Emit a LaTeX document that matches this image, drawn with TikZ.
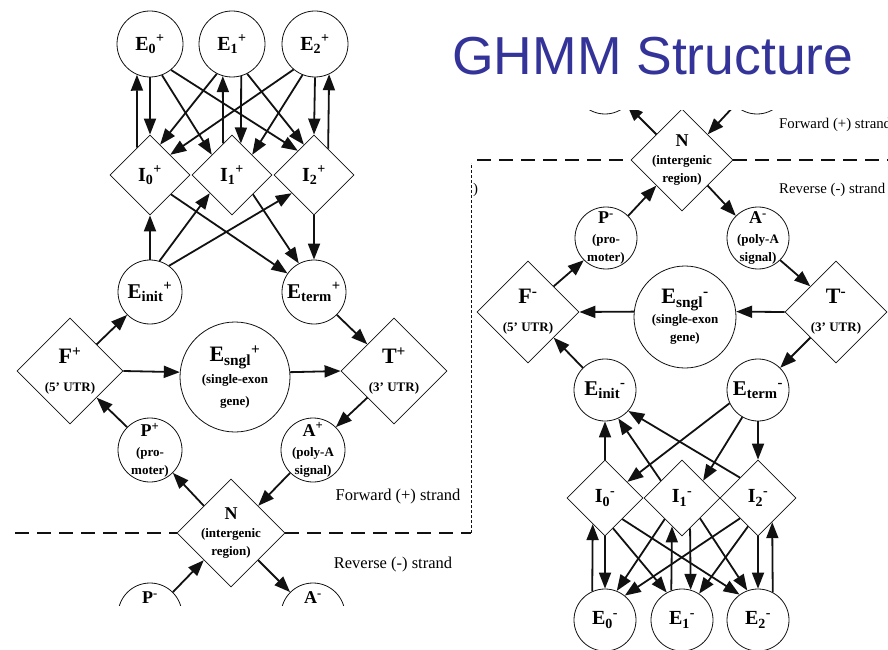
\documentclass[tikz,border=0pt]{standalone}
\usepackage{fontspec}
\setmainfont{Liberation Serif}
\newfontfamily\titlefont{Liberation Sans}
\usepackage{xcolor}
\usepackage{tikz}
\usetikzlibrary{calc,shapes.geometric,arrows.meta}
\definecolor{ink}{HTML}{111111}
\definecolor{titleblue}{HTML}{333399}
\newcommand{\statelab}[2][20]{{\fontsize{#1}{#1}\selectfont #2}}
\tikzset{
  state/.style={circle, draw=ink, line width=0.8pt, inner sep=-10pt, minimum size=#1,
    font=\bfseries\fontsize{13}{18}\selectfont, align=center},
  gate/.style={diamond, aspect=1, draw=ink, line width=0.8pt, inner sep=-10pt, minimum size=#1,
    font=\bfseries\fontsize{13}{18}\selectfont, align=center},
  arr/.style={draw=ink, line width=1.8pt, -{Triangle[length=16pt,width=12pt]}},
  splitline/.style={draw=ink, line width=1.2pt, dash pattern=on 14pt off 8pt},
  frameline/.style={draw=ink, line width=0.6pt, dash pattern=on 3pt off 2pt},
  strand/.style={font=\fontsize{16.5}{18}\selectfont, inner sep=0pt},
}

\begin{document}
\begin{tikzpicture}[x=1pt,y=1pt]
  \useasboundingbox (0,0) rectangle (888,649);
  \node[anchor=base west, inner sep=0pt, text=titleblue,
    font=\titlefont\fontsize{53.5}{54}\selectfont] (title) at (452,574) {GHMM Structure};

  % left panel: forward strand
  \begin{scope}
    \clip (0,44) rectangle (471,649);
    \node[state=66pt] (E0p) at (150,605) {\statelab{E\textsubscript{0}\textsuperscript{+}}};
    \node[state=66pt] (E1p) at (232,605) {\statelab{E\textsubscript{1}\textsuperscript{+}}};
    \node[state=66pt] (E2p) at (315,605) {\statelab{E\textsubscript{2}\textsuperscript{+}}};
    \node[gate=80pt] (I0p) at (150,474) {\statelab{I\textsubscript{0}\textsuperscript{+}}};
    \node[gate=80pt] (I1p) at (232,474) {\statelab{I\textsubscript{1}\textsuperscript{+}}};
    \node[gate=80pt] (I2p) at (314,474) {\statelab{I\textsubscript{2}\textsuperscript{+}}};
    \node[state=64pt] (Einitp) at (150,357) {\statelab[21]{E\textsubscript{init}\textsuperscript{+}}};
    \node[state=64pt] (Etermp) at (314,357) {\statelab[21]{E\textsubscript{term}\textsuperscript{+}}};
    \node[gate=106pt] (Fp) at (70,278) {\statelab[22]{F\textsuperscript{+}}\\[10pt](5' UTR)};
    \node[state=110pt] (Esnglp) at (235,272) {\statelab[22]{E\textsubscript{sngl}\textsuperscript{+}}\\[4pt](single-exon\\[4pt]gene)};
    \node[gate=106pt] (Tp) at (394,278) {\statelab[22]{T\textsuperscript{+}}\\[10pt](3' UTR)};
    \node[state=64pt] (Pp) at (150,199) {\statelab[18]{P\textsuperscript{+}}\\[2pt](pro-\\moter)};
    \node[state=64pt] (Ap) at (313,199) {\statelab[18]{A\textsuperscript{+}}\\[2pt](poly-A\\signal)};
    \node[gate=108pt] (N) at (231,116) {\statelab[18]{N}\\(intergenic\\region)};
    \node[state=64pt] (Pcut) at (150,34) {};
    \node[state=64pt] (Acut) at (313,34) {};
    \node[inner sep=0pt] (Pcutlab) at ([yshift=17pt]Pcut.center) {\bfseries\statelab[18]{P\textsuperscript{-}}};
    \node[inner sep=0pt] (Acutlab) at ([yshift=17pt]Acut.center) {\bfseries\statelab[18]{A\textsuperscript{-}}};

    % exons <-> introns
    \draw[arr] ($(I0p.north)!.32!(I0p.west)$) -- (E0p.247);
    \draw[arr] (E0p.south) -- (I0p.north);
    \draw[arr] (E0p.291) -- ($(I1p.north)!.5!(I1p.west)$);
    \draw[arr] (E0p.309) -- ($(I2p.north)!.4!(I2p.west)$);
    \draw[arr] (E1p.243) -- ($(I0p.north)!.25!(I0p.east)$);
    \draw[arr] ($(I1p.north)!.22!(I1p.west)$) -- (E1p.254);
    \draw[arr] (E1p.286) -- ($(I1p.north)!.22!(I1p.east)$);
    \draw[arr] (E1p.297) -- ($(I2p.north)!.25!(I2p.west)$);
    \draw[arr] (E2p.230) -- ($(I0p.north)!.5!(I0p.east)$);
    \draw[arr] (E2p.248) -- ($(I1p.north)!.5!(I1p.east)$);
    \draw[arr] (E2p.south) -- (I2p.north);
    \draw[arr] ($(I2p.north)!.35!(I2p.east)$) -- (E2p.295);

    \draw[arr] (Einitp.north) -- (I0p.south);
    \draw[arr] (Einitp.73) -- ($(I1p.south)!.55!(I1p.west)$);
    \draw[arr] (Einitp.54) -- ($(I2p.south)!.55!(I2p.west)$);
    \draw[arr] ($(I0p.south)!.52!(I0p.east)$) -- (Etermp.145);
    \draw[arr] ($(I1p.south)!.52!(I1p.east)$) -- (Etermp.118);
    \draw[arr] (I2p.south) -- (Etermp.north);

    % gene level
    \draw[arr] ($(Fp.north)!.5!(Fp.east)$) -- (Einitp.225);
    \draw[arr] (Fp.east) -- (Esnglp.175);
    \draw[arr] (Esnglp.5) -- (Tp.west);
    \draw[arr] (Etermp.315) -- ($(Tp.north)!.5!(Tp.west)$);
    \draw[arr] ($(Tp.south)!.5!(Tp.west)$) -- (Ap.45);
    \draw[arr] (Pp.135) -- ($(Fp.south)!.5!(Fp.east)$);
    \draw[arr] (Ap.225) -- ($(N.north)!.5!(N.east)$);
    \draw[arr] ($(N.north)!.5!(N.west)$) -- (Pp.315);
    \draw[arr] (Pcut.45) -- ($(N.south)!.5!(N.west)$);
    \draw[arr] ($(N.south)!.5!(N.east)$) -- (Acut.135);

    \coordinate (cutL) at (15,116);
    \coordinate (cutR) at (471,116);
    \draw[splitline] (cutL) -- (N.west);
    \draw[splitline] (N.east) -- (cutR);
    \node[strand] (fwdl) at (398,152) {Forward (+) strand};
    \node[strand] (revl) at (393,84) {Reverse (-) strand};
  \end{scope}
  \coordinate (frameTop) at (471,486);
  \draw[frameline] (cutR) -- (frameTop);

  % right panel: reverse strand
  \begin{scope}
    \clip (471,0) rectangle (888,538);
    \node[state=62pt] (Pcutr) at (605,566) {};
    \node[state=62pt] (Acutr) at (757,566) {};
    \node[gate=102pt] (Nr) at (682,489) {\statelab[18]{N}\\(intergenic\\region)};
    \node[state=62pt] (Pm) at (606,411) {\statelab[18]{P\textsuperscript{-}}\\[2pt](pro-\\moter)};
    \node[state=62pt] (Am) at (758,411) {\statelab[18]{A\textsuperscript{-}}\\[2pt](poly-A\\signal)};
    \node[gate=102pt] (Fm) at (528,337) {\statelab[22]{F\textsuperscript{-}}\\[10pt](5' UTR)};
    \node[state=102pt] (Esnglm) at (685,332) {\statelab[22]{E\textsubscript{sngl}\textsuperscript{-}}\\[2pt](single-exon\\gene)};
    \node[gate=102pt] (Tm) at (836,337) {\statelab[22]{T\textsuperscript{-}}\\[10pt](3' UTR)};
    \node[state=62pt] (Einitm) at (605,259) {\statelab[21]{E\textsubscript{init}\textsuperscript{-}}};
    \node[state=62pt] (Etermm) at (758,259) {\statelab[21]{E\textsubscript{term}\textsuperscript{-}}};
    \node[gate=76pt] (I0m) at (605,151) {\statelab{I\textsubscript{0}\textsuperscript{-}}};
    \node[gate=76pt] (I1m) at (682,151) {\statelab{I\textsubscript{1}\textsuperscript{-}}};
    \node[gate=76pt] (I2m) at (758,151) {\statelab{I\textsubscript{2}\textsuperscript{-}}};
    \node[state=62pt] (E0m) at (605,29) {\statelab{E\textsubscript{0}\textsuperscript{-}}};
    \node[state=62pt] (E1m) at (682,29) {\statelab{E\textsubscript{1}\textsuperscript{-}}};
    \node[state=62pt] (E2m) at (758,29) {\statelab{E\textsubscript{2}\textsuperscript{-}}};

    \draw[arr] ($(Nr.north)!.5!(Nr.west)$) -- (Pcutr.315);
    \draw[arr] (Acutr.225) -- ($(Nr.north)!.5!(Nr.east)$);
    \draw[arr] (Pm.45) -- ($(Nr.south)!.5!(Nr.west)$);
    \draw[arr] ($(Nr.south)!.5!(Nr.east)$) -- (Am.135);
    \draw[arr] ($(Fm.north)!.5!(Fm.east)$) -- (Pm.225);
    \draw[arr] (Esnglm.174) -- (Fm.east);
    \draw[arr] (Tm.west) -- (Esnglm.6);
    \draw[arr] (Am.315) -- ($(Tm.north)!.5!(Tm.west)$);
    \draw[arr] ($(Tm.south)!.5!(Tm.west)$) -- (Etermm.45);
    \draw[arr] (Einitm.135) -- ($(Fm.south)!.5!(Fm.east)$);

    % introns <-> initial/terminal exons
    \draw[arr] (I0m.north) -- (Einitm.south);
    \draw[arr] ($(I1m.north)!.55!(I1m.west)$) -- (Einitm.295);
    \draw[arr] ($(I2m.north)!.47!(I2m.west)$) -- (Einitm.318);
    \draw[arr] (Etermm.205) -- ($(I0m.north)!.58!(I0m.east)$);
    \draw[arr] (Etermm.240) -- ($(I1m.north)!.55!(I1m.east)$);
    \draw[arr] (Etermm.south) -- (I2m.north);

    % introns <-> exons
    \draw[arr] (E0m.114) -- ($(I0m.south)!.32!(I0m.west)$);
    \draw[arr] (I0m.south) -- (E0m.north);
    \draw[arr] ($(I0m.south)!.21!(I0m.east)$) -- (E1m.119);
    \draw[arr] ($(I0m.south)!.45!(I0m.east)$) -- (E2m.126);
    \draw[arr] ($(I1m.south)!.45!(I1m.west)$) -- (E0m.68);
    \draw[arr] (E1m.110) -- ($(I1m.south)!.26!(I1m.west)$);
    \draw[arr] ($(I1m.south)!.21!(I1m.east)$) -- (E1m.74);
    \draw[arr] ($(I1m.south)!.47!(I1m.east)$) -- (E2m.110);
    \draw[arr] ($(I2m.south)!.47!(I2m.west)$) -- (E0m.51);
    \draw[arr] ($(I2m.south)!.26!(I2m.west)$) -- (E1m.57);
    \draw[arr] (I2m.south) -- (E2m.north);
    \draw[arr] (E2m.62) -- ($(I2m.south)!.37!(I2m.east)$);

    \coordinate (cutL2) at (477,489);
    \coordinate (cutR2) at (888,489);
    \draw[splitline] (cutL2) -- (Nr.west);
    \draw[splitline] (Nr.east) -- (cutR2);
    \node[strand, anchor=west, font=\fontsize{14.8}{17}\selectfont] (fwdr) at (779,524) {Forward (+) strand};
    \node[strand, anchor=west, font=\fontsize{14.8}{17}\selectfont] (revr) at (779,459) {Reverse (-) strand};
    \node[strand, anchor=west, font=\fontsize{14.8}{17}\selectfont] (cutparen) at (473,459) {)};
  \end{scope}
\end{tikzpicture}
\end{document}
